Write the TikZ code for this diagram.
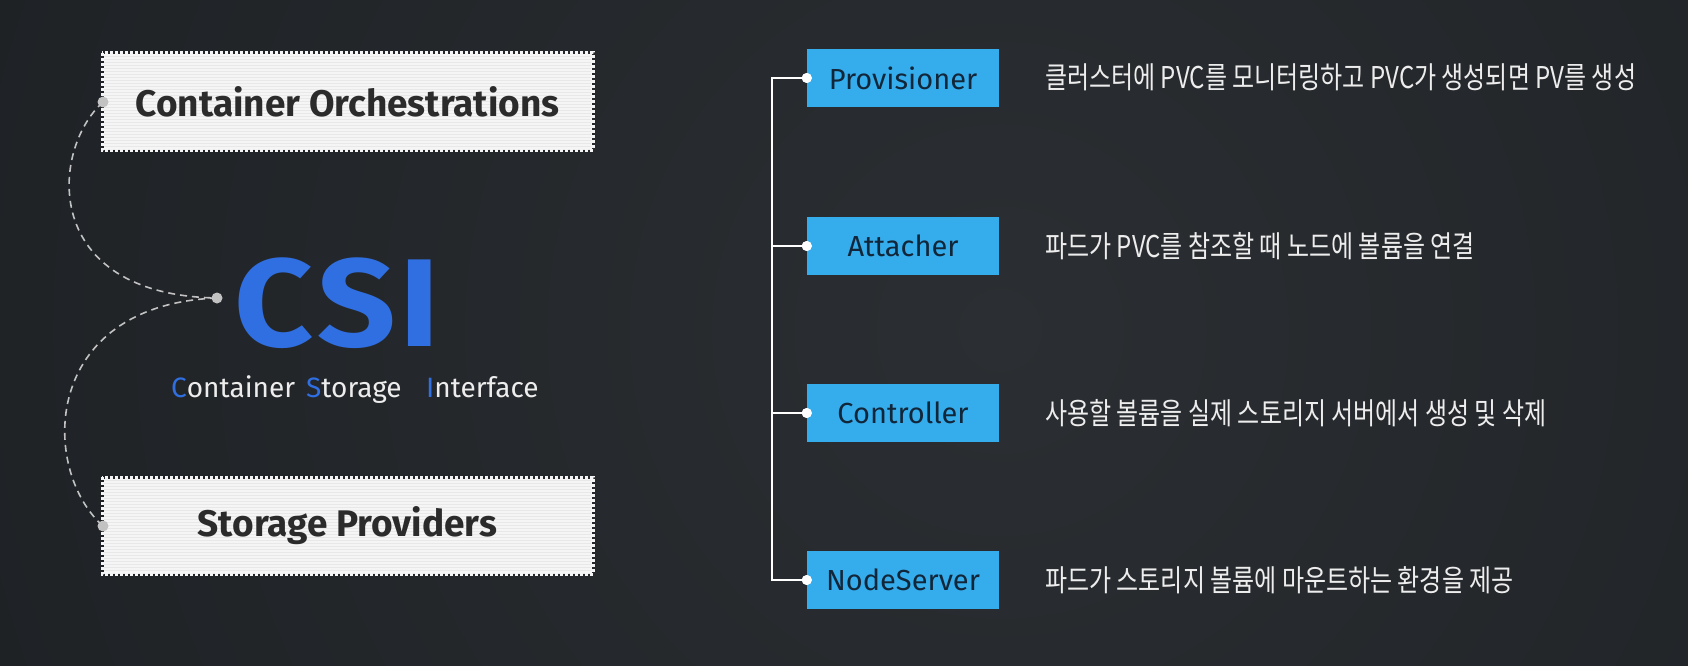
\documentclass[tikz,border=0pt]{standalone}
\usepackage{fontspec}
\setmainfont{Fira Sans}
\newfontfamily\krfont[FakeStretch=0.80]{Noto Sans CJK KR}
\newfontfamily\leftfont{Fira Sans}
\newfontfamily\csifont[FakeStretch=1.1]{Fira Sans}
\definecolor{bgdark}{HTML}{1B1E21}
\definecolor{bglight}{HTML}{2B2E32}
\definecolor{csiblue}{HTML}{2F6FE2}
\definecolor{skyblue}{HTML}{35ADEC}
\definecolor{navytext}{HTML}{12263A}
\definecolor{paper}{HTML}{F5F5F5}
\definecolor{stripe}{HTML}{E8E8E8}
\definecolor{inkgray}{HTML}{2B2B2B}
\definecolor{curvegray}{HTML}{C2C2C2}
\definecolor{softwhite}{HTML}{EDEDED}
\begin{document}
\begin{tikzpicture}[x=1pt,y=-1pt,
  papertext/.style={font=\leftfont\bfseries\fontsize{37}{42}\selectfont, text=inkgray, inner sep=0pt},
  bluebox/.style={fill=skyblue, minimum width=192pt, minimum height=58pt, inner sep=0pt,
    font=\fontsize{29}{34}\selectfont, text=navytext},
  wdot/.style={circle, fill=white, minimum size=10pt, inner sep=0pt},
  gdot/.style={circle, fill=curvegray, minimum size=11pt, inner sep=0pt},
  dashcurve/.style={draw=curvegray, line width=1.6pt, dash pattern=on 7pt off 5pt},
  desc/.style={font=\krfont\fontsize{30}{34}\selectfont, text=softwhite, anchor=base west, inner sep=0pt},
  small/.style={font=\fontsize{28}{33}\selectfont, text=softwhite, anchor=base west, inner sep=0pt},
  trunk/.style={draw=white, line width=1.5pt}
]
\useasboundingbox (0,0) rectangle (1688,666);
% background
\fill[bgdark] (0,0) rectangle (1688,666);
\begin{scope}
\clip (0,0) rectangle (1688,666);
\shade[inner color=bglight, outer color=bgdark] (1000,330) circle (1400);
\end{scope}

% paper boxes
\foreach \ya/\yb in {53/150, 477/574}{
  \fill[paper] (103.5,\ya+1.5) rectangle (591.5,\yb-1.5);
  \foreach \k in {0,3,...,93}{
    \draw[stripe, line width=0.7pt] (104,\ya+3+\k) -- (591,\ya+3+\k);
  }
  \draw[paper, line width=3pt, dash pattern=on 3pt off 2pt] (102,\ya) rectangle (593,\yb);
}
\node[papertext] (orch) at (347.5,101.5) {Container Orchestrations};
\node[papertext] (prov2) at (347.5,525.5) {Storage Providers};

% CSI
\node[font=\csifont\bfseries\fontsize{125}{130}\selectfont, text=csiblue, anchor=base, inner sep=0pt] (csi) at (337,346) {C\hspace{4pt}S\hspace{4pt}I};
\node[small] (wc) at (171,397) {\textcolor{csiblue}{C}ontainer};
\node[small] (ws) at (306,397) {\textcolor{csiblue}{S}torage};
\node[small] (wi) at (426,397) {\textcolor{csiblue}{I}nterface};

% dots and dashed curves
\node[gdot] (topdot) at (103,102) {};
\node[gdot] (csidot) at (217,298) {};
\node[gdot] (botdot) at (103,526) {};
\draw[dashcurve] (topdot.center) .. controls (50,150) and (40,295) .. (csidot.center);
\draw[dashcurve] (csidot.center) .. controls (40,305) and (40,470) .. (botdot.center);

% blue boxes
\node[bluebox] (provb) at (903,78) {Provisioner};
\node[bluebox] (attb) at (903,246) {Attacher};
\node[bluebox] (ctlb) at (903,413) {Controller};
\node[bluebox] (nodb) at (903,580) {NodeServer};
\coordinate (trunkx) at (772,0);
\node[wdot] (pdot) at (provb.west) {};
\node[wdot] (adot) at (attb.west) {};
\node[wdot] (cdot) at (ctlb.west) {};
\node[wdot] (ndot) at (nodb.west) {};
\draw[trunk] (pdot.center) -| (trunkx |- ndot.center) -- (ndot.center);
\draw[trunk] (adot.center) -- (adot.center -| trunkx);
\draw[trunk] (cdot.center) -- (cdot.center -| trunkx);
\fill[white] (pdot) circle (5pt) (adot) circle (5pt) (cdot) circle (5pt) (ndot) circle (5pt);

% descriptions
\node[desc] (d1) at (1045,89) {클러스터에 PVC를 모니터링하고 PVC가 생성되면 PV를 생성};
\node[desc] (d2) at (1045,257) {파드가 PVC를 참조할 때 노드에 볼륨을 연결};
\node[desc] (d3) at (1045,424) {사용할 볼륨을 실제 스토리지 서버에서 생성 및 삭제};
\node[desc] (d4) at (1045,591) {파드가 스토리지 볼륨에 마운트하는 환경을 제공};
\end{tikzpicture}
\end{document}
